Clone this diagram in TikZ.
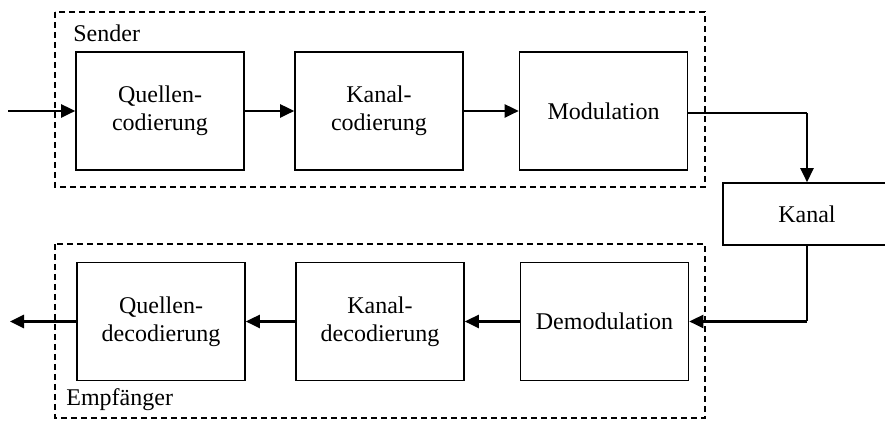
\documentclass[tikz,border=0pt]{standalone}
\usepackage{fontspec}
\setmainfont{Liberation Serif}
\usetikzlibrary{arrows.meta}

\tikzset{
    block/.style={draw, line width=0.8pt, minimum width=84pt, minimum height=59pt,
        inner sep=0pt, align=center, font=\fontsize{12}{14}\selectfont},
    group/.style={draw, line width=1.2pt, dash pattern=on 3pt off 2pt},
    lbl/.style={anchor=west, inner sep=0pt, font=\fontsize{12}{14}\selectfont},
    arr/.style={line width=1.3pt, -{Triangle[length=7pt, width=6.5pt]}},
    thinline/.style={line width=0.8pt}
}

\begin{document}
\begin{tikzpicture}[x=0.5pt, y=-0.5pt]
    \useasboundingbox (0, 0) rectangle (885, 421);
    \clip (0, 0) rectangle (885, 421);

    % Sender
    \draw[group] (55, 12) rectangle (705, 187);
    \node[lbl] (sender) at (73, 33) {Sender};
    \node[block] (qc) at (160, 111) {Quellen-\\codierung};
    \node[block] (kc) at (379, 111) {Kanal-\\codierung};
    \node[block] (mod) at (603.5, 111) {Modulation};

    % Kanal
    \node[block, minimum height=31pt] (kanal) at (807, 214) {Kanal};

    % Empfaenger
    \draw[group] (55, 244) rectangle (705, 418);
    \node[lbl] (empf) at (66, 400) {Empfänger};
    \node[block] (qd) at (161, 321.5) {Quellen-\\decodierung};
    \node[block] (kd) at (380, 321.5) {Kanal-\\decodierung};
    \node[block] (dm) at (604.5, 321.5) {Demodulation};

    \coordinate (in) at (8, 111);
    \coordinate (out) at (10, 321.5);

    \draw[arr] (in) -- (qc);
    \draw[arr] (qc) -- (kc);
    \draw[arr] (kc) -- (mod);
    \draw[thinline] ([yshift=-1pt]mod.east) -- ([yshift=-1pt]mod.east -| kanal.north);
    \draw[arr] ([yshift=-1pt]mod.east -| kanal.north) -- (kanal.north);
    \draw[thinline] (kanal.south) -- (kanal.south |- dm.east);
    \draw[arr] (kanal.south |- dm.east) -- (dm.east);
    \draw[arr] (dm) -- (kd);
    \draw[arr] (kd) -- (qd);
    \draw[arr] (qd) -- (out);
\end{tikzpicture}
\end{document}
